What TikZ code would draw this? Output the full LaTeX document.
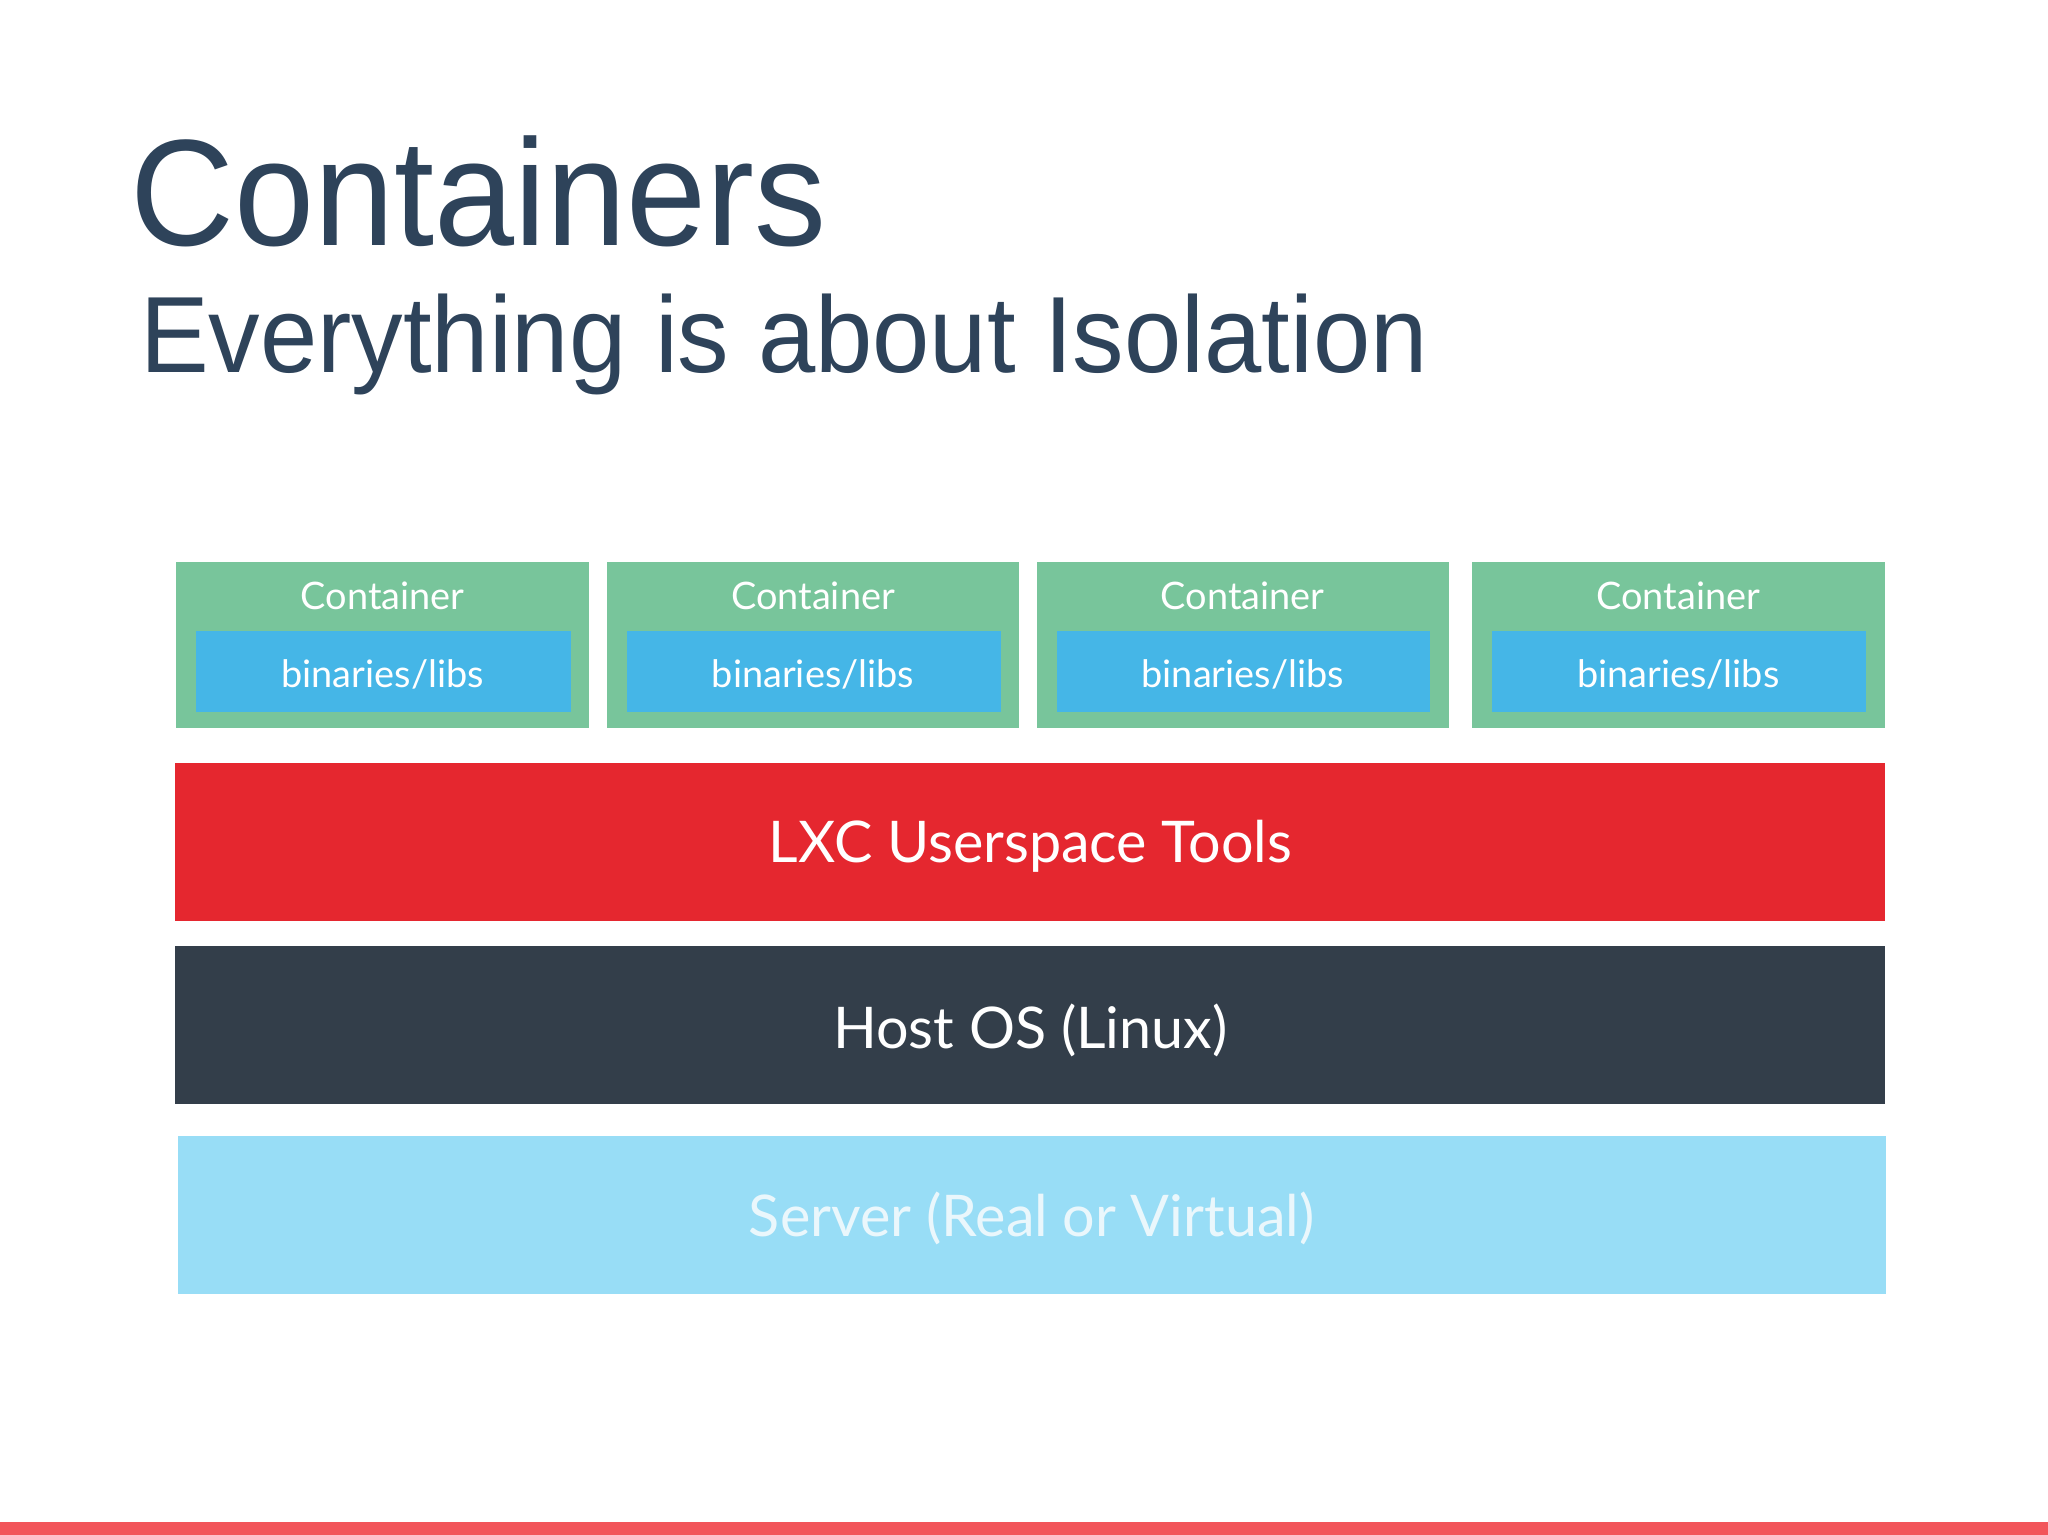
\documentclass[tikz,border=0pt]{standalone}
\usepackage{fontspec}
\setmainfont{Lato}
\newfontfamily\titlefont{Liberation Sans}
\definecolor{titlec}{HTML}{2E435A}
\definecolor{greenc}{HTML}{78C59B}
\definecolor{bluec}{HTML}{45B6E7}
\definecolor{redc}{HTML}{E5272F}
\definecolor{darkc}{HTML}{333E4A}
\definecolor{lightc}{HTML}{98DDF6}
\definecolor{lighttext}{HTML}{EAF7FC}
\definecolor{barc}{HTML}{F2555A}
\tikzset{
  box/.style={draw=none,inner sep=0pt,anchor=north west},
  ctext/.style={text=white,font=\fontsize{29}{29}\selectfont},
  btext/.style={text=white,font=\fontsize{44}{44}\selectfont}
}
\begin{document}
\begin{tikzpicture}[x=1pt,y=-1pt]
\useasboundingbox[fill=white] (0,0) rectangle (1568,1175);
\node[anchor=base west,text=titlec,inner sep=0pt,font=\titlefont\fontsize{116}{116}\selectfont,xscale=0.95] (title) at (100,188) {Containers};
\node[anchor=base west,text=titlec,inner sep=0pt,font=\titlefont\fontsize{83}{83}\selectfont,xscale=0.95] (sub) at (107,285) {Everything is about Isolation};
\foreach \i/\xa/\xb in {1/135/451,2/465/780,3/794/1109,4/1127/1443}{
  \fill[greenc] (\xa,430) rectangle (\xb,557);
  \fill[bluec] (\xa+15,483) rectangle (\xb-14,545);
  \node[ctext] (c\i) at ({(\xa+\xb)/2},456) {Container};
  \node[ctext] (b\i) at ({(\xa+\xb)/2},516) {binaries/libs};
}
\fill[redc] (134,584) rectangle (1443,705);
\node[btext] (lxc) at (789,648) {LXC Userspace Tools};
\fill[darkc] (134,724) rectangle (1443,845);
\node[btext] (host) at (789,789) {Host OS (Linux)};
\fill[lightc] (136,870) rectangle (1444,991);
\node[btext,text=lighttext] (server) at (790,933) {Server (Real or Virtual)};
\fill[barc] (0,1165) rectangle (1568,1175);
\end{tikzpicture}
\end{document}
